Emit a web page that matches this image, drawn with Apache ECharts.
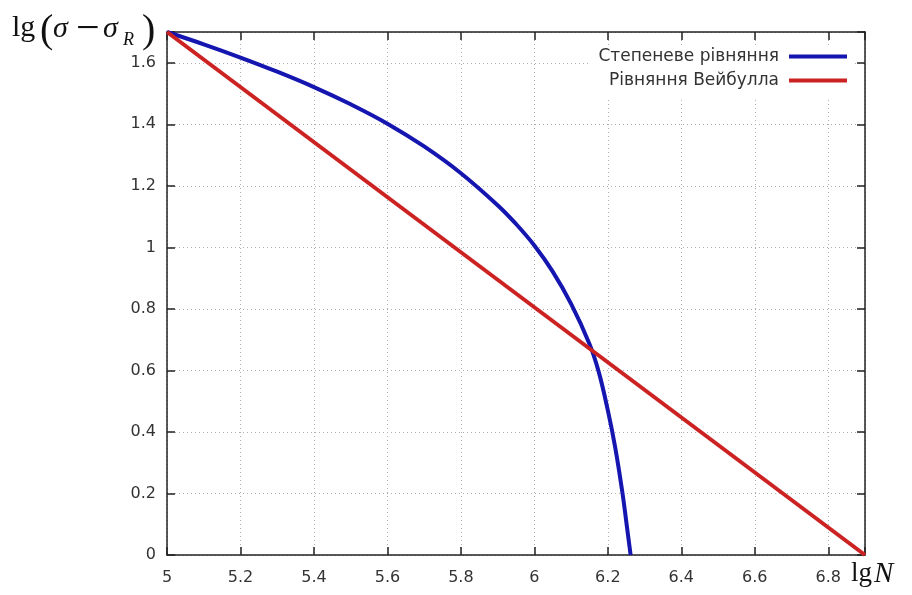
<!DOCTYPE html>
<html>
<head>
<meta charset="utf-8">
<script src="https://cdn.jsdelivr.net/npm/echarts@6/dist/echarts.min.js"></script>
<style>html,body{margin:0;padding:0;background:#fff}#c{width:912px;height:595px}</style>
</head>
<body>
<div id="c"></div>
<script>
// Data
const seriesNames = ['Степеневе рівняння', 'Рівняння Вейбулла'];
const powerX = [5.0, 5.1, 5.2, 5.3, 5.4, 5.5, 5.6, 5.7, 5.8, 5.9, 5.95, 6.0, 6.05, 6.1, 6.15, 6.175, 6.2, 6.22, 6.24, 6.25, 6.262];
const powerY = [1.70, 1.66, 1.617, 1.571, 1.521, 1.465, 1.402, 1.328, 1.241, 1.137, 1.076, 1.006, 0.921, 0.816, 0.686, 0.596, 0.47, 0.35, 0.20, 0.11, 0.0];
const weibullX = [5.0, 6.9];
const weibullY = [1.70, 0.0];
const xTicks = ['5', '5.2', '5.4', '5.6', '5.8', '6', '6.2', '6.4', '6.6', '6.8'];
const yTicks = ['0', '0.2', '0.4', '0.6', '0.8', '1', '1.2', '1.4', '1.6'];

const chart = echarts.init(document.getElementById('c'), null, {renderer: 'canvas'});
const fmt = v => {
  const s = String(Number(v.toFixed(1)));
  return (xTicks.includes(s) || yTicks.includes(s)) ? s : '';
};
const labelStyle = {fontFamily: 'DejaVu Sans', fontSize: 16, color: '#333'};
const gridLine = {show: true, lineStyle: {color: '#b0b0b0', type: [1, 3], width: 1}};
const axisLine = {show: true, onZero: false, lineStyle: {color: '#222', width: 1.5}};
const tick = {show: true, inside: true, length: 8, lineStyle: {color: '#222', width: 1.5}};

const serif = 'Liberation Serif';
function t(x, y, text, size, italic) {
  return {type: 'text', x: x, y: y, style: {text: text, fontFamily: serif, fontSize: size,
    fontStyle: italic ? 'italic' : 'normal', fill: '#111'}};
}

chart.setOption({
  animation: false,
  backgroundColor: '#fff',
  grid: {left: 167, right: 47, top: 32, bottom: 40},
  legend: {
    orient: 'vertical', right: 57, top: 46, align: 'right',
    padding: [2, 8, 8, 8], backgroundColor: '#fff',
    itemWidth: 58, itemHeight: 4, itemGap: 7, icon: 'rect',
    textStyle: {fontFamily: 'DejaVu Sans', fontSize: 17, color: '#333', padding: [0, 5, 0, 0]},
    data: seriesNames
  },
  xAxis: [
    {type: 'value', min: 5, max: 6.9, interval: 0.2, axisLine: axisLine, axisTick: tick,
      splitLine: gridLine, axisLabel: Object.assign({formatter: fmt, margin: 15}, labelStyle)},
    {type: 'value', position: 'top', min: 5, max: 6.9, interval: 0.2, axisLine: axisLine, axisTick: tick,
      splitLine: {show: false}, axisLabel: {show: false}}
  ],
  yAxis: [
    {type: 'value', min: 0, max: 1.7, interval: 0.2, axisLine: axisLine, axisTick: tick,
      splitLine: gridLine, axisLabel: Object.assign({formatter: fmt, margin: 11}, labelStyle)},
    {type: 'value', position: 'right', min: 0, max: 1.7, interval: 0.2, axisLine: axisLine, axisTick: tick,
      splitLine: {show: false}, axisLabel: {show: false}}
  ],
  graphic: [
    t(12, 13, 'lg', 30, false),
    t(40, 11, '(', 40, false),
    t(53, 14, 'σ', 30, true),
    t(76, 9, '−', 42, false),
    t(103, 14, 'σ', 30, true),
    t(123, 31, 'R', 18, true),
    t(142, 11, ')', 40, false),
    t(851, 560, 'lg', 27, false),
    t(874, 560, 'N', 29, true)
  ],
  series: [
    {name: seriesNames[0], type: 'line', data: powerX.map((x, i) => [x, powerY[i]]),
      showSymbol: false, smooth: 0.4, clip: true,
      lineStyle: {color: '#1515b0', width: 4}, itemStyle: {color: '#1515b0'}},
    {name: seriesNames[1], type: 'line', data: weibullX.map((x, i) => [x, weibullY[i]]),
      showSymbol: false, clip: true,
      lineStyle: {color: '#cc2222', width: 4}, itemStyle: {color: '#cc2222'}}
  ]
});
</script>
</body>
</html>
